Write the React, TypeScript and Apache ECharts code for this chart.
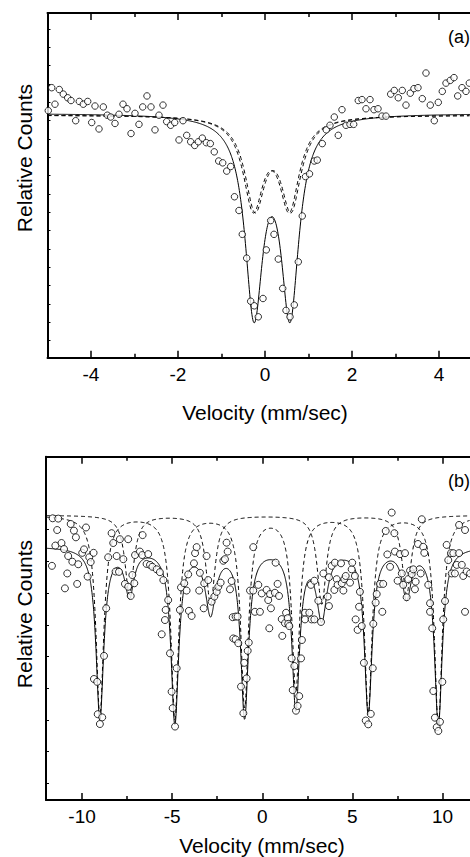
import React, { useEffect, useRef } from "react";
import * as echarts from "echarts";

const FONT = '"Liberation Sans", Arial, Helvetica, sans-serif';

// ---------- (a) quadrupole doublet ----------
const velocityA = [
  -4.982, -4.903, -4.828, -4.729, -4.637, -4.536, -4.46, -4.352, -4.269, -4.177,
  -4.076, -3.984, -3.908, -3.816, -3.717, -3.625, -3.547, -3.448, -3.356, -3.264,
  -3.172, -3.08, -2.989, -2.897, -2.811, -2.713, -2.621, -2.529, -2.437, -2.345,
  -2.26, -2.168, -2.076, -1.977, -1.885, -1.8, -1.708, -1.616, -1.533, -1.441,
  -1.349, -1.257, -1.166, -1.064, -0.972, -0.88, -0.789, -0.701, -0.598, -0.522,
  -0.421, -0.329, -0.246, -0.154, -0.046, 0.03, 0.131, 0.207, 0.306, 0.407,
  0.483, 0.575, 0.674, 0.766, 0.857, 0.931, 1.023, 1.133, 1.202, 1.317,
  1.409, 1.494, 1.593, 1.685, 1.77, 1.862, 1.954, 2.039, 2.145, 2.23,
  2.322, 2.414, 2.506, 2.598, 2.69, 2.782, 2.89, 2.972, 3.064, 3.156,
  3.241, 3.34, 3.425, 3.517, 3.616, 3.701, 3.8, 3.892, 3.984, 4.076,
  4.161, 4.26, 4.345, 4.43, 4.529, 4.621, 4.697,
];
const countsA = [
  1.0001, 1.0026, 1.0008, 1.0024, 1.0019, 1.0015, 1.0012, 0.999, 1.0011, 1.0008,
  1.0011, 0.9988, 1.0006, 0.9981, 1.0005, 0.9996, 0.9994, 0.9987, 0.9997, 1.0008,
  1.0003, 0.9976, 0.9998, 0.9986, 1.0005, 1.0017, 1.0005, 0.998, 0.9996, 1.0007,
  0.9989, 0.9985, 0.9988, 0.9969, 0.999, 0.9974, 0.9967, 0.9963, 0.9967, 0.9971,
  0.9966, 0.9965, 0.9956, 0.9946, 0.9944, 0.9935, 0.994, 0.9907, 0.9892, 0.9866,
  0.984, 0.9793, 0.9788, 0.9776, 0.9796, 0.9849, 0.9881, 0.9866, 0.9839, 0.9807,
  0.9783, 0.9776, 0.9789, 0.9836, 0.9886, 0.9929, 0.9932, 0.9946, 0.9947, 0.9965,
  0.998, 0.9985, 0.9994, 0.9974, 1.0002, 0.9985, 0.9986, 0.9986, 1.0012, 1.0013,
  1.0003, 1.0013, 1.0002, 1.0003, 0.9995, 0.9995, 1.0019, 1.0023, 1.0015, 1.0023,
  1.0007, 1.002, 1.0025, 1.0026, 1.0014, 1.0042, 1.0007, 0.999, 1.001, 1.0022,
  1.0031, 1.0034, 1.0037, 1.0017, 1.0026, 1.0022, 1.0031,
];

// total fit (solid): baseline, line centres (mm/s), depths, Lorentzian half-widths
const fitABase = 0.99981;
const fitACentres = [-0.253, 0.575];
const fitADepths = [0.0211, 0.0211];
const fitAWidths = [0.25, 0.25];
// sub-spectra (dashed)
const subABase = 0.99962;
const subA1Centres = [-0.27, 0.56];
const subA2Centres = [-0.23, 0.6];
const subADepths = [0.0097, 0.0097];
const subAWidths = [0.28, 0.28];

const velTicksA = [-4, -2, 0, 2, 4];
const velMinorA = [-3, -1, 1, 3];
const countTicksA = [
  0.975, 0.977, 0.979, 0.981, 0.983, 0.985, 0.987, 0.989, 0.991, 0.993, 0.995,
  0.997, 0.999, 1.001, 1.003, 1.005, 1.007, 1.009,
];

// ---------- (b) magnetic sextet ----------
const velocityB = [
  -11.67, -11.63, -11.48, -11.38, -11.32, -11.14, -11.0, -10.95, -10.82, -10.77,
  -10.63, -10.54, -10.45, -10.34, -10.27, -10.21, -9.99, -9.89, -9.78, -9.69,
  -9.6, -9.52, -9.36, -9.34, -9.16, -9.13, -9.01, -8.88, -8.78, -8.66,
  -8.55, -8.36, -8.27, -8.14, -8.08, -7.95, -7.9, -7.71, -7.62, -7.44,
  -7.44, -7.3, -7.21, -7.1, -7.06, -6.79, -6.66, -6.64, -6.42, -6.33,
  -6.23, -6.1, -5.86, -5.68, -5.58, -5.49, -5.4, -5.36, -5.22, -5.12,
  -5.03, -4.97, -4.84, -4.75, -4.57, -4.51, -4.33, -4.2, -4.11, -4.07,
  -3.92, -3.79, -3.73, -3.64, -3.5, -3.46, -3.25, -3.22, -3.09, -3.0,
  -2.81, -2.66, -2.53, -2.44, -2.31, -2.16, -2.07, -1.98, -1.92, -1.79,
  -1.7, -1.64, -1.61, -1.48, -1.37, -1.48, -1.33, -1.18, -1.05, -1.0,
  -0.87, -0.81, -0.75, -0.68, -0.5, -0.5, -0.41, -0.22, -0.13, -0.03,
  0.24, 0.33, 0.39, 0.43, 0.48, 0.7, 0.74, 0.85, 0.93, 1.08,
  1.11, 1.26, 1.32, 1.41, 1.44, 1.5, 1.63, 1.69, 1.78, 1.87,
  1.96, 2.05, 2.15, 2.2, 2.37, 2.37, 2.61, 2.7, 2.74, 2.89,
  2.89, 3.11, 3.26, 3.39, 3.63, 3.7, 3.7, 3.85, 4.0, 4.03,
  4.13, 4.18, 4.37, 4.41, 4.5, 4.55, 4.63, 4.87, 4.96, 4.99,
  5.14, 5.18, 5.29, 5.37, 5.42, 5.52, 5.64, 5.74, 5.88, 6.02,
  6.13, 6.16, 6.29, 6.35, 6.53, 6.66, 6.71, 6.85, 6.94, 7.09,
  7.18, 7.33, 7.36, 7.51, 7.64, 7.74, 7.82, 7.92, 8.01, 8.1,
  8.2, 8.29, 8.38, 8.47, 8.51, 8.64, 8.79, 8.85, 8.93, 8.99,
  9.21, 9.31, 9.31, 9.43, 9.49, 9.58, 9.68, 9.77, 9.86, 9.99,
  10.04, 10.14, 10.23, 10.32, 10.47, 10.51, 10.6, 10.69, 10.79, 10.92,
  10.92, 11.07, 11.15, 11.25, 11.25, 11.34, 11.53,
];
const countsB = [
  0.9836, 0.9986, 0.99, 0.9949, 0.9985, 0.9908, 0.9889, 0.9765, 0.9812, 0.9867,
  0.9968, 0.9849, 0.9947, 0.9926, 0.9779, 0.9841, 0.9877, 0.9888, 0.9957, 0.9802,
  0.9863, 0.9848, 0.9877, 0.9479, 0.947, 0.9368, 0.9337, 0.9358, 0.9552, 0.9702,
  0.9863, 0.9939, 0.9908, 0.9818, 0.9867, 0.9817, 0.992, 0.9857, 0.9779, 0.992,
  0.977, 0.9741, 0.9807, 0.9781, 0.987, 0.9881, 0.987, 0.9933, 0.9842, 0.9873,
  0.9839, 0.9833, 0.9825, 0.9816, 0.962, 0.9791, 0.9665, 0.9697, 0.9728, 0.956,
  0.9439, 0.9387, 0.9329, 0.9513, 0.9697, 0.9768, 0.9781, 0.9758, 0.9809, 0.9694,
  0.9678, 0.9844, 0.9876, 0.9895, 0.9758, 0.9814, 0.9702, 0.9781, 0.9867, 0.9791,
  0.9723, 0.9739, 0.9754, 0.977, 0.9783, 0.9852, 0.9857, 0.9909, 0.9881, 0.9762,
  0.9788, 0.9674, 0.9607, 0.9676, 0.9676, 0.9604, 0.9592, 0.9455, 0.9371, 0.953,
  0.9481, 0.9568, 0.9594, 0.9758, 0.9758, 0.9895, 0.9691, 0.9776, 0.9691, 0.9749,
  0.976, 0.9728, 0.9639, 0.9747, 0.9702, 0.9751, 0.9846, 0.9779, 0.9741, 0.9668,
  0.9615, 0.9655, 0.9688, 0.9671, 0.9653, 0.9646, 0.9544, 0.9444, 0.952, 0.9379,
  0.9394, 0.9425, 0.9544, 0.9602, 0.9688, 0.9667, 0.9688, 0.9776, 0.9667, 0.9789,
  0.9667, 0.9726, 0.9659, 0.9812, 0.9739, 0.9709, 0.98, 0.9836, 0.976, 0.9846,
  0.9794, 0.9776, 0.9844, 0.9781, 0.9758, 0.9794, 0.9804, 0.9783, 0.9825, 0.9846,
  0.9804, 0.9667, 0.9634, 0.9707, 0.9754, 0.9646, 0.953, 0.9348, 0.9336, 0.9369,
  0.9513, 0.9653, 0.972, 0.9747, 0.9779, 0.9691, 0.9779, 0.9946, 0.9872, 0.9833,
  1.0004, 0.9939, 0.9881, 0.9789, 0.9873, 0.9812, 0.9776, 0.9876, 0.9737, 0.9794,
  0.9821, 0.981, 0.9825, 0.9762, 0.9786, 0.9905, 0.9812, 0.9983, 0.9896, 0.9877,
  0.9776, 0.9718, 0.9691, 0.9639, 0.9441, 0.9357, 0.9327, 0.9315, 0.9344, 0.947,
  0.9667, 0.9725, 0.9902, 0.9854, 0.9876, 0.9812, 0.9876, 0.9812, 0.9839, 0.9965,
  0.9876, 0.9839, 0.9804, 0.9949, 0.9691, 0.9818, 0.9812,
];

// total fit (solid)
const fitBBase = 0.9898;
const fitBCentres = [-9.01, -7.37, -4.85, -2.87, -0.98, 1.86, 3.3, 5.88, 8.01, 9.77];
const fitBDepths = [0.054, 0.0145, 0.055, 0.02, 0.053, 0.05, 0.0215, 0.052, 0.015, 0.056];
const fitBWidths = [0.26, 0.3, 0.26, 0.35, 0.26, 0.26, 0.35, 0.26, 0.3, 0.26];
// sub-spectra (dashed)
const subBBase = 0.9996;
const subB1Centres = [-9.01, -4.85, -0.98, 1.86, 5.88, 9.77];
const subB1Depths = [0.063, 0.064, 0.06, 0.055, 0.062, 0.066];
const subB1Widths = [0.26, 0.26, 0.26, 0.26, 0.26, 0.26];
const subB2Centres = [-7.37, -2.87, 3.3, 8.01];
const subB2Depths = [0.025, 0.028, 0.028, 0.025];
const subB2Widths = [0.3, 0.3, 0.3, 0.3];

const velTicksB = [-10, -5, 0, 5, 10];
const velMinorB = [-7.5, -2.5, 2.5, 7.5];
const countTicksB = [0.915, 0.925, 0.935, 0.945, 0.955, 0.965, 0.975, 0.985, 0.995];

// axis ranges
const rangeA = { xMin: -5, xMax: 4.713, yMin: 0.97314, yMax: 1.01075 };
const rangeB = { xMin: -12, xMax: 11.526, yMin: 0.90973, yMax: 1.01803 };

// Sum of Lorentzian absorption lines, sampled across the velocity range
function lorentzCurve(
  lo: number,
  hi: number,
  base: number,
  centres: number[],
  depths: number[],
  widths: number[]
) {
  const step = 0.01;
  const n = Math.round((hi - lo) / step);
  const pts: number[][] = [];
  for (let i = 0; i <= n; i++) {
    const v = lo + i * step;
    let y = base;
    for (let k = 0; k < centres.length; k++) {
      const d = v - centres[k];
      const g = widths[k];
      y -= (depths[k] * g * g) / (g * g + d * d);
    }
    pts.push([v, y]);
  }
  return pts;
}

const zip = (xs: number[], ys: number[]) => xs.map((x, i) => [x, ys[i]]);

function velAxis(
  gridIndex: number,
  min: number,
  max: number,
  position: "top" | "bottom",
  ticks: number[],
  tickLen: number,
  showLine: boolean,
  labels: number[] | null
) {
  return {
    type: "value",
    gridIndex,
    min,
    max,
    position,
    splitLine: { show: false },
    axisLine: { show: showLine, onZero: false, lineStyle: { color: "#000", width: 2 } },
    axisTick: {
      show: true,
      inside: true,
      length: tickLen,
      customValues: ticks,
      lineStyle: { color: "#000", width: 1.5 },
    },
    axisLabel: labels
      ? {
          show: true,
          customValues: labels,
          color: "#000",
          fontSize: 19,
          fontFamily: FONT,
          margin: 7,
        }
      : { show: false },
  };
}

function countAxis(gridIndex: number, min: number, max: number, ticks: number[]) {
  return {
    type: "value",
    gridIndex,
    min,
    max,
    position: "left",
    splitLine: { show: false },
    axisLine: { show: true, onZero: false, lineStyle: { color: "#000", width: 2 } },
    axisTick: {
      show: true,
      inside: true,
      length: 3,
      customValues: ticks,
      lineStyle: { color: "#000", width: 1 },
    },
    axisLabel: { show: false },
  };
}

const solidStyle = { color: "#000", width: 1 };
const dashStyle = { color: "#000", width: 1, type: [4, 3] };

function lineSeries(data: number[][], xi: number, yi: number, style: object) {
  return {
    type: "line",
    xAxisIndex: xi,
    yAxisIndex: yi,
    data,
    showSymbol: false,
    symbol: "none",
    lineStyle: style,
    silent: true,
    z: 2,
  };
}

function pointSeries(data: number[][], xi: number, yi: number, size: number) {
  return {
    type: "scatter",
    xAxisIndex: xi,
    yAxisIndex: yi,
    data,
    symbol: "circle",
    symbolSize: size,
    itemStyle: { color: "#fff", borderColor: "#000", borderWidth: 1 },
    silent: true,
    z: 3,
  };
}

function text(t: string, x: number, y: number, size: number, align: string, rotation = 0) {
  return {
    type: "text",
    x,
    y,
    rotation,
    silent: true,
    style: {
      text: t,
      fill: "#000",
      fontSize: size,
      fontFamily: FONT,
      textAlign: align,
      textVerticalAlign: "middle",
    },
  };
}

function buildOption() {
  const a = rangeA;
  const b = rangeB;
  return {
    animation: false,
    backgroundColor: "#fff",
    grid: [
      { left: 47.5, top: 13, width: 422.5, height: 344.7 },
      { left: 46, top: 456.7, width: 424, height: 343.3 },
    ],
    xAxis: [
      velAxis(0, a.xMin, a.xMax, "bottom", velTicksA, 7, true, velTicksA),
      velAxis(0, a.xMin, a.xMax, "bottom", velMinorA, 4, false, null),
      velAxis(0, a.xMin, a.xMax, "top", velTicksA, 7, true, null),
      velAxis(0, a.xMin, a.xMax, "top", velMinorA, 4, false, null),
      velAxis(1, b.xMin, b.xMax, "bottom", velTicksB, 7, true, velTicksB),
      velAxis(1, b.xMin, b.xMax, "bottom", velMinorB, 4, false, null),
      velAxis(1, b.xMin, b.xMax, "top", velTicksB, 7, true, null),
      velAxis(1, b.xMin, b.xMax, "top", velMinorB, 4, false, null),
    ],
    yAxis: [
      countAxis(0, a.yMin, a.yMax, countTicksA),
      countAxis(1, b.yMin, b.yMax, countTicksB),
    ],
    series: [
      lineSeries(lorentzCurve(a.xMin, a.xMax, subABase, subA1Centres, subADepths, subAWidths), 0, 0, dashStyle),
      lineSeries(lorentzCurve(a.xMin, a.xMax, subABase, subA2Centres, subADepths, subAWidths), 0, 0, dashStyle),
      lineSeries(lorentzCurve(a.xMin, a.xMax, fitABase, fitACentres, fitADepths, fitAWidths), 0, 0, solidStyle),
      pointSeries(zip(velocityA, countsA), 0, 0, 6.5),

      lineSeries(lorentzCurve(b.xMin, b.xMax, subBBase, subB1Centres, subB1Depths, subB1Widths), 4, 1, dashStyle),
      lineSeries(lorentzCurve(b.xMin, b.xMax, subBBase, subB2Centres, subB2Depths, subB2Widths), 4, 1, dashStyle),
      lineSeries(lorentzCurve(b.xMin, b.xMax, fitBBase, fitBCentres, fitBDepths, fitBWidths), 4, 1, solidStyle),
      pointSeries(zip(velocityB, countsB), 4, 1, 7),
    ],
    graphic: [
      text("Relative Counts", 24, 158, 21, "center", Math.PI / 2),
      text("Relative Counts", 24, 614, 21, "center", Math.PI / 2),
      text("Velocity (mm/sec)", 265, 412, 21, "center"),
      text("Velocity (mm/sec)", 262, 845, 21, "center"),
      text("(a)", 470, 37, 18, "right"),
      text("(b)", 470, 481, 18, "right"),
    ],
  };
}

export default function App() {
  const ref = useRef<HTMLDivElement>(null);
  useEffect(() => {
    if (!ref.current) return;
    const chart = echarts.init(ref.current, undefined, { renderer: "svg" });
    chart.setOption(buildOption() as any);
    return () => chart.dispose();
  }, []);
  return (
    <div
      ref={ref}
      style={{ position: "fixed", left: 0, top: 0, width: 470, height: 857, background: "#fff" }}
    />
  );
}
